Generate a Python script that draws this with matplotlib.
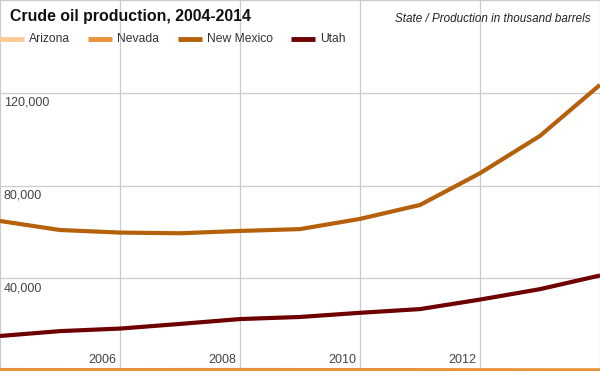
import matplotlib.pyplot as plt

# data (thousand barrels)
years = [2004, 2005, 2006, 2007, 2008, 2009, 2010, 2011, 2012, 2013, 2014]
arizona = [50, 50, 50, 50, 50, 50, 50, 50, 50, 50, 50]
nevada = [420, 400, 380, 420, 440, 410, 400, 380, 340, 320, 300]
new_mexico = [64700, 60800, 59700, 59400, 60400, 61200, 65600, 71600, 85300, 101400, 123400]
utah = [15100, 17200, 18300, 20300, 22400, 23300, 25100, 26700, 30800, 35300, 41200]

series = [("Arizona", arizona, "#FCCB95"),
          ("Nevada", nevada, "#E8923A"),
          ("New Mexico", new_mexico, "#B5600A"),
          ("Utah", utah, "#6E0000")]

y_ticks = [40000, 80000, 120000]
x_ticks = [2006, 2008, 2010, 2012]

plt.rcParams['font.family'] = ['Liberation Sans', 'DejaVu Sans']

fig = plt.figure(figsize=(6, 3.71), dpi=100)
ax = fig.add_axes([0, 0, 1, 1])

for name, vals, col in series:
    ax.plot(years, vals, color=col, lw=3, solid_capstyle='butt', zorder=3)

ax.set_xlim(2004, 2014)
ax.set_ylim(0, 160000)
for s in ax.spines.values():
    s.set_visible(False)
ax.set_xticks([])
ax.set_yticks([])

# grid
for yr in range(2004, 2015, 2):
    ax.axvline(yr, color="#CCCCCC", lw=0.9, zorder=1)
for v in [0, 40000, 80000, 120000, 160000]:
    ax.axhline(v, color="#CCCCCC", lw=0.9, zorder=1)

# tick labels inside the plot
for v in y_ticks:
    ax.annotate(f"{v:,}", xy=(2004, v), xytext=(4, -4), textcoords="offset pixels",
                ha="left", va="top", fontsize=9, color="#444444")
for yr in x_ticks:
    ax.annotate(str(yr), xy=(yr, 0), xytext=(-4, 5), textcoords="offset pixels",
                ha="right", va="bottom", fontsize=9, color="#444444")

# title and subtitle
fig.text(10 / 600, 1 - 17 / 371, "Crude oil production, 2004-2014", fontsize=11.4,
         fontweight="bold", color="#111111", ha="left", va="center")
fig.text(591 / 600, 1 - 19 / 371, "State / Production in thousand barrels", fontsize=8.4,
         style="italic", color="#222222", ha="right", va="center")

# legend
legend_x = [0, 88, 178, 291]
for (name, vals, col), lx in zip(series, legend_x):
    y = 1 - 39 / 371
    fig.add_artist(plt.Line2D([lx / 600, (lx + 24) / 600], [y, y], color=col, lw=3.5,
                              solid_capstyle='butt'))
    fig.text((lx + 29) / 600, y, name, fontsize=8.7, color="#333333", ha="left", va="center")

fig.savefig("out.png", dpi=100)
